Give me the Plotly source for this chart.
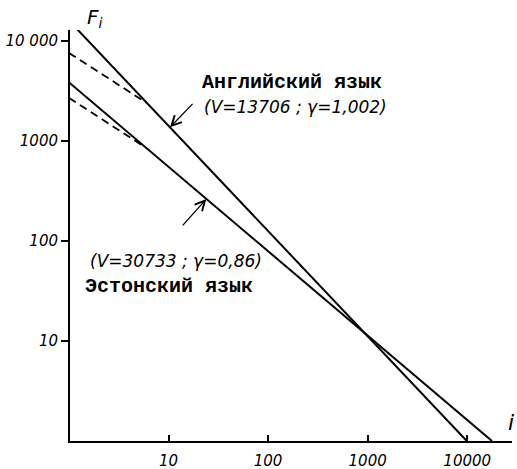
import math
import plotly.graph_objects as go

# Rank-frequency data (log-log), read per language
eng_rank = [1, 9900]
eng_freq = [16000, 1]
eng_dash_rank = [1, 6]
eng_dash_freq = [7600, 2410]

est_rank = [1, 17750]
est_freq = [3850, 1]
est_dash_rank = [1, 6]
est_dash_freq = [2700, 850]

x_tickvals = [10, 100, 1000, 10000]
x_ticktext = ["10", "100", "1000", "10000"]
y_tickvals = [10, 100, 1000, 10000]
y_ticktext = ["10", "100", "1000", "10 000"]

eng_title = "Английский язык"
eng_params = "(V=13706 ; γ=1,002)"
est_title = "Эстонский язык"
est_params = "(V=30733 ; γ=0,86)"

fig = go.Figure()
line_style = dict(color="black", width=2)
dash_style = dict(color="black", width=1.8, dash="8px,5px")

fig.add_trace(go.Scatter(x=eng_rank, y=eng_freq, mode="lines", line=line_style))
fig.add_trace(go.Scatter(x=est_rank, y=est_freq, mode="lines", line=line_style))
fig.add_trace(go.Scatter(x=eng_dash_rank, y=eng_dash_freq, mode="lines", line=dash_style))
fig.add_trace(go.Scatter(x=est_dash_rank, y=est_dash_freq, mode="lines", line=dash_style))

tick_font = dict(family="DejaVu Sans", size=15, color="black", style="italic")

fig.update_xaxes(
    type="log", range=[0.01, 4.45],
    tickvals=x_tickvals, ticktext=x_ticktext,
    ticks="inside", ticklen=6, tickwidth=1.5, tickcolor="black",
    showline=True, linewidth=2, linecolor="black",
    showgrid=False, zeroline=False, tickfont=tick_font,
    ticklabelstandoff=5, automargin=False,
)
fig.update_yaxes(
    type="log", range=[0, 4.11],
    tickvals=y_tickvals, ticktext=y_ticktext,
    ticks="outside", ticklen=7, tickwidth=1.5, tickcolor="black",
    showline=True, linewidth=2, linecolor="black",
    showgrid=False, zeroline=False, tickfont=tick_font,
    automargin=False,
)

label_font = dict(family="Liberation Mono", size=20, color="black", weight="bold")
param_font = dict(family="DejaVu Sans", size=17, color="black", style="italic")

annotations = [
    dict(x=1.316, y=3.59, text=eng_title, font=label_font),
    dict(x=1.336, y=3.34, text=eng_params, font=param_font),
    dict(x=0.19, y=1.80, text=est_params, font=param_font),
    dict(x=0.14, y=1.55, text=est_title, font=label_font),
]
for a in annotations:
    fig.add_annotation(xref="x", yref="y", xanchor="left", yanchor="middle",
                       showarrow=False, **a)


def on_line(rank, freq, logx):
    """Log-frequency of a straight log-log segment at log-rank logx."""
    x0, x1 = math.log10(rank[0]), math.log10(rank[1])
    y0, y1 = math.log10(freq[0]), math.log10(freq[1])
    return y0 + (y1 - y0) * (logx - x0) / (x1 - x0)


# Pointer arrows onto each solid line (head placed on the line itself)
eng_pt = 1.0145
est_pt = 1.38
fig.add_annotation(xref="x", yref="y", x=eng_pt, y=on_line(eng_rank, eng_freq, eng_pt),
                   ax=24, ay=-25, showarrow=True, arrowhead=5, arrowsize=1.5,
                   arrowwidth=1.3, arrowcolor="black", text="")
fig.add_annotation(xref="x", yref="y", x=est_pt, y=on_line(est_rank, est_freq, est_pt),
                   ax=-25, ay=28, showarrow=True, arrowhead=5, arrowsize=1.5,
                   arrowwidth=1.3, arrowcolor="black", text="")

# Axis titles
fig.add_annotation(xref="paper", yref="paper", x=0.057, y=1.03, xanchor="center",
                   yanchor="middle", showarrow=False,
                   text="F<sub>i</sub>",
                   font=dict(family="DejaVu Sans", size=20, color="black", style="italic"))
fig.add_annotation(xref="paper", yref="paper", x=0.998, y=0.044, xanchor="center",
                   yanchor="middle", showarrow=False, text="i",
                   font=dict(family="DejaVu Sans", size=22, color="black", style="italic"))

fig.update_layout(
    width=517, height=469,
    margin=dict(l=70, r=5, t=30, b=28),
    paper_bgcolor="white", plot_bgcolor="white",
    showlegend=False,
)

fig.write_html("out.html")
